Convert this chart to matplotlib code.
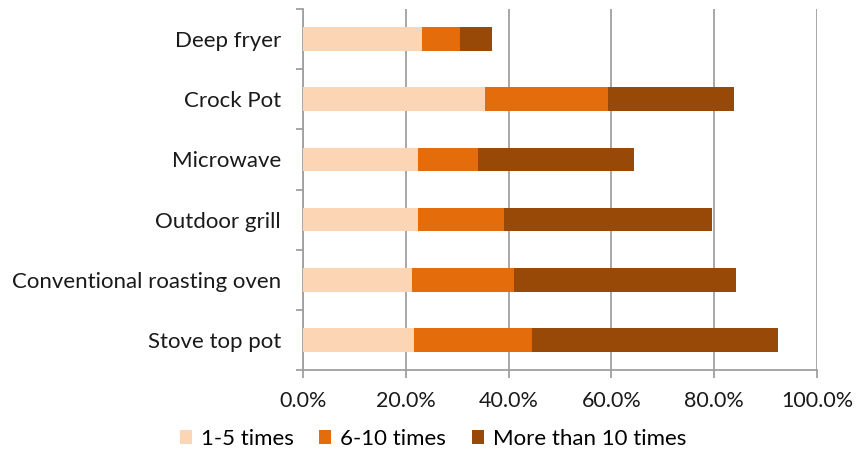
import matplotlib
matplotlib.use("Agg")
import matplotlib.pyplot as plt
import numpy as np
from matplotlib.ticker import FuncFormatter, FixedLocator
from matplotlib.patches import Patch

categories = ["Deep fryer", "Crock Pot", "Microwave", "Outdoor grill",
              "Conventional roasting oven", "Stove top pot"]
s_1_5 = [23.2, 35.5, 22.4, 22.4, 21.2, 21.6]
s_6_10 = [7.3, 23.9, 11.6, 16.7, 19.8, 23.0]
s_more10 = [6.3, 24.4, 30.4, 40.5, 43.2, 47.8]
series_names = ["1-5 times", "6-10 times", "More than 10 times"]
colors = ["#FCD5B5", "#E46C0A", "#984807"]
xticks = [0, 20, 40, 60, 80, 100]

plt.rcParams['font.family'] = ['Lato', 'DejaVu Sans']

fig = plt.figure(figsize=(8.56, 4.53), dpi=100)
ax = fig.add_axes([303/856, 1-370/453, (817-303)/856, 361/453])

y = np.arange(len(categories))
left = np.zeros(len(categories))
for vals, c, name in zip([s_1_5, s_6_10, s_more10], colors, series_names):
    ax.barh(y, vals, left=left, height=0.395, color=c, label=name, zorder=3)
    left += np.array(vals)

ax.set_ylim(len(categories) - 0.5, -0.5)
ax.set_xlim(0, 100)
ax.set_xticks(xticks)
ax.xaxis.set_major_formatter(FuncFormatter(lambda v, p: f"{v:.1f}%"))
ax.grid(axis='x', color='#A0A0A0', linewidth=1.3, zorder=0)
ax.set_axisbelow(True)

ax.yaxis.set_major_locator(FixedLocator(np.arange(-0.5, len(categories), 1)))
ax.yaxis.set_major_formatter(FuncFormatter(lambda v, p: ""))
ax.set_yticks(y, minor=True)
ax.set_yticklabels(categories, minor=True)
ax.tick_params(axis='y', which='minor', length=0, pad=16, labelsize=16, labelcolor='#1a1a1a')
ax.tick_params(axis='y', which='major', length=5, color='#A0A0A0', width=1.3)
ax.tick_params(axis='x', length=6, color='#A0A0A0', width=1.3, labelsize=15.5,
               labelcolor='#1a1a1a', pad=9)

for sp in ['top', 'right']:
    ax.spines[sp].set_visible(False)
for sp in ['left', 'bottom']:
    ax.spines[sp].set_color('#A0A0A0')
    ax.spines[sp].set_linewidth(1.3)

handles = [Patch(facecolor=c, label=n) for c, n in zip(colors, series_names)]
fig.legend(handles=handles, loc='center', bbox_to_anchor=(433/856, 1-439/453),
           ncol=3, frameon=False, fontsize=16, handlelength=0.55, handleheight=0.55,
           handletextpad=0.4, columnspacing=1.15, borderpad=0)

fig.savefig("out.png", dpi=100)
